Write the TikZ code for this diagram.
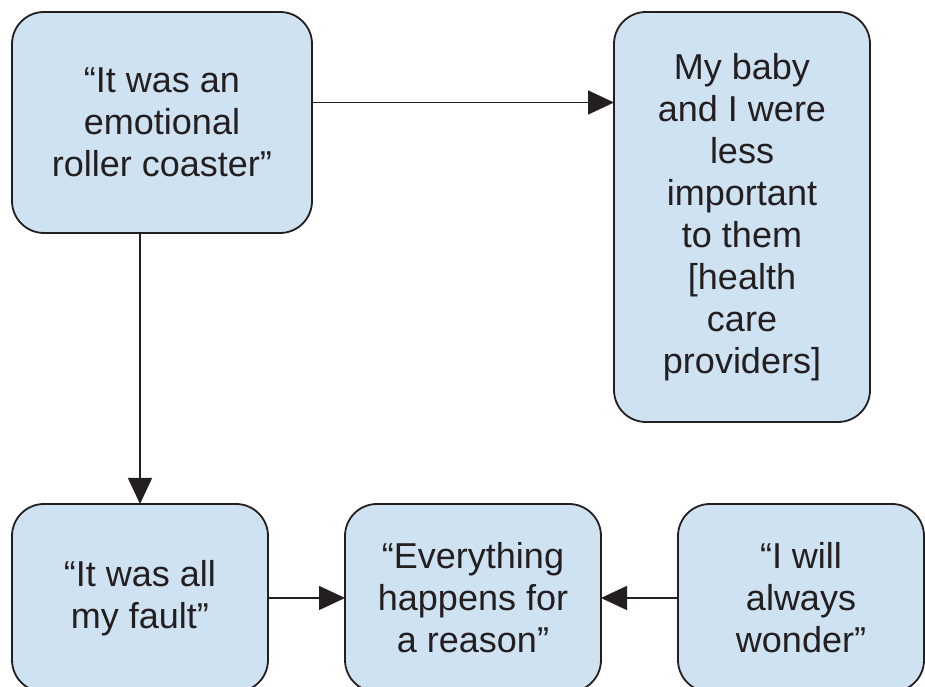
\documentclass[tikz,border=0pt]{standalone}
\usepackage{fontspec}
\setmainfont{Liberation Sans}
\usetikzlibrary{arrows.meta}
\usetikzlibrary{positioning}

\definecolor{boxfill}{RGB}{207,226,242}
\definecolor{boxline}{RGB}{35,31,32}

\begin{document}
\begin{tikzpicture}[x=1pt, y=1pt, quotebox/.style={rectangle, rounded corners=32pt, draw=boxline, fill=boxfill, line width=1.8pt, align=center, inner sep=0pt, outer sep=0pt, font=\fontsize{36}{42}\selectfont, text=boxline, minimum width=256pt}, link/.style={-{Triangle[length=26pt, width=24pt]}, draw=boxline, line width=1.5pt}]
        \useasboundingbox (0,0) rectangle (925,687);
        \clip (0,0) rectangle (925,687);
        \node[quotebox, minimum width=300pt, minimum height=221pt] (coaster) at (162,564.5) {“It was an\\emotional\\roller coaster”};
        \node[quotebox, minimum height=410pt] (important) [right=302pt of coaster.north east, anchor=north west] {My baby\\and I were\\less\\important\\to them\\{[health}\\care\\providers]};
        \node[quotebox, minimum height=188pt] (fault) [below=271pt of coaster.south west, anchor=north west] {“It was all\\my fault”};
        \node[quotebox, minimum height=188pt] (reason) [right=77pt of fault] {“Everything\\happens for\\a reason”};
        \node[quotebox, minimum height=188pt, minimum width=246pt] (wonder) [right=77pt of reason] {“I will\\always\\wonder”};

        \draw[link] ([yshift=20pt]coaster.east) -- ([yshift=20pt]coaster.east -| important.west);
        \draw[link] (coaster.south -| fault.north) -- (fault.north);
        \draw[link] (fault) -- (reason);
        \draw[link] (wonder) -- (reason);
    \end{tikzpicture}
\end{document}
